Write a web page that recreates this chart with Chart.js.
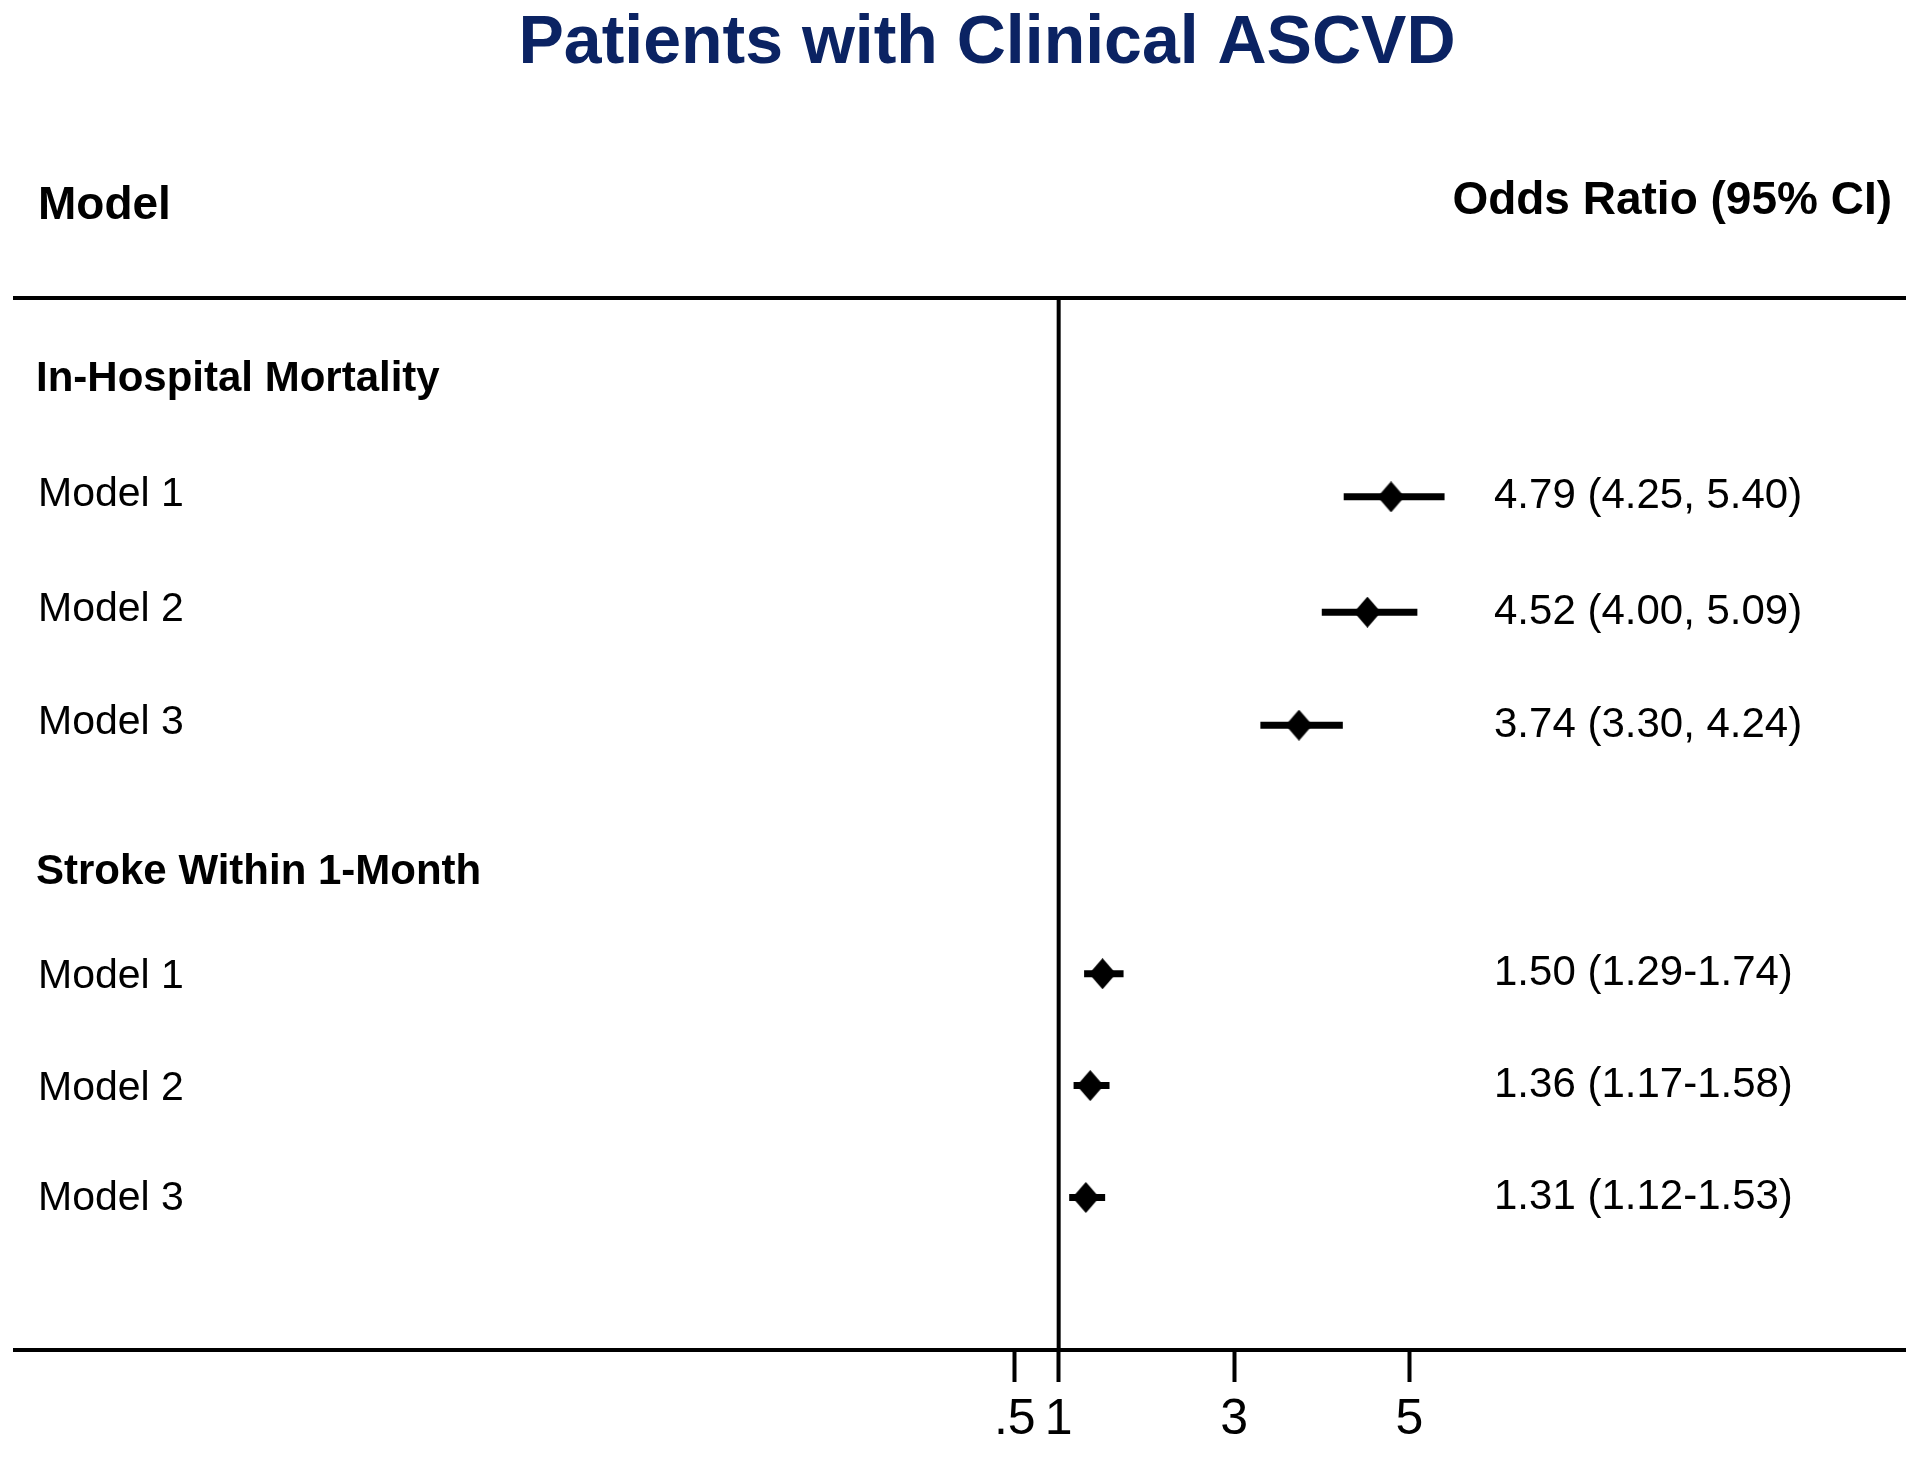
<!DOCTYPE HTML>
<html>

<head>
  <title>Patients with Clinical ASCVD</title>
  <meta content="width=device-width, initial-scale=1.0" name="viewport">
  <script src="https://cdn.jsdelivr.net/npm/chart.js"></script>
  <style>
    body { margin: 0; background: #fff; }
    .chart-container { position: relative; width: 1920px; height: 1458px; }
  </style>
</head>

<body>
  <div class="chart-container">
    <canvas id="forestChart"></canvas>
  </div>

  <script type="text/javascript">
    const ctx_forest = document.getElementById('forestChart');

    // ---- data ----------------
    var chartTitle = "Patients with Clinical ASCVD";
    var colLeft = "Model";
    var colRight = "Odds Ratio (95% CI)";
    var rowLabels = ["In-Hospital Mortality", "Model 1", "Model 2", "Model 3", "Stroke Within 1-Month", "Model 1", "Model 2", "Model 3"];
    var rowIsHeader = [true, false, false, false, true, false, false, false];
    var rowPos = [0.72, 1.76, 2.78, 3.78, 5.08, 5.98, 6.97, 7.96];   // row position on the (hidden) y axis
    var oddsRatio = [null, 4.79, 4.52, 3.74, null, 1.50, 1.36, 1.31];
    var ciLow = [null, 4.25, 4.00, 3.30, null, 1.29, 1.17, 1.12];
    var ciHigh = [null, 5.40, 5.09, 4.24, null, 1.74, 1.58, 1.53];
    var ciText = ["", "4.79 (4.25, 5.40)", "4.52 (4.00, 5.09)", "3.74 (3.30, 4.24)", "", "1.50 (1.29-1.74)", "1.36 (1.17-1.58)", "1.31 (1.12-1.53)"];
    var xTicks = [0.5, 1, 3, 5];
    var xTickLabels = [".5", "1", "3", "5"];
    var refValue = 1;
    var xMin = -10.9, xMax = 10.65;
    var yMax = 9.31;
    //--------------------------

    var fontFam = '"Liberation Sans", Arial, sans-serif';
    // small vertical nudge (px) of the left labels per row, text sits a bit off the marker line
    var labelNudge = [0, -2, -2, -2, 0, 3, 3, 1];

    // diamond marker, a little taller than wide
    function makeDiamond(w, h) {
      var c = document.createElement('canvas');
      c.width = w; c.height = h;
      var g = c.getContext('2d');
      g.fillStyle = '#000';
      g.beginPath();
      g.moveTo(w / 2, 0);
      g.lineTo(w, h / 2);
      g.lineTo(w / 2, h);
      g.lineTo(0, h / 2);
      g.closePath();
      g.fill();
      return c;
    }
    var diamond = makeDiamond(27, 31);

    var datasets = [];
    var markerPts = [];
    for (let index = 0; index < rowLabels.length; index++) {
      if (oddsRatio[index] == null) continue;
      markerPts.push({ x: oddsRatio[index], y: rowPos[index] });
      datasets.push({
        label: 'CI ' + index,
        data: [{ x: ciLow[index], y: rowPos[index] }, { x: ciHigh[index], y: rowPos[index] }],
        showLine: true,
        borderColor: '#000',
        borderWidth: 7,
        pointRadius: 0,
        order: 1,
      });
    }
    datasets.push({
      label: 'OR',
      data: markerPts,
      pointStyle: diamond,
      pointRadius: 14,
      order: 0,
    });
    datasets.push({
      label: 'ref',
      data: [{ x: refValue, y: 0 }, { x: refValue, y: yMax }],
      showLine: true,
      borderColor: '#000',
      borderWidth: 4,
      pointRadius: 0,
      order: 2,
    });

    var textPlugin = {
      id: 'forestText',
      afterDraw(chart) {
        var c = chart.ctx;
        var ys = chart.scales.y;
        c.save();
        c.fillStyle = '#0b2363';
        c.font = 'bold 68px ' + fontFam;
        c.textAlign = 'center';
        c.textBaseline = 'alphabetic';
        c.fillText(chartTitle, 987, 63);

        c.fillStyle = '#000';
        c.font = 'bold 46px ' + fontFam;
        c.textAlign = 'left';
        c.fillText(colLeft, 38, 219);
        c.textAlign = 'right';
        c.fillText(colRight, 1892, 214);

        c.textBaseline = 'middle';
        for (let index = 0; index < rowLabels.length; index++) {
          var py = ys.getPixelForValue(rowPos[index]);
          c.textAlign = 'left';
          if (rowIsHeader[index]) {
            c.font = 'bold 42px ' + fontFam;
            c.fillText(rowLabels[index], 36, py);
          } else {
            c.font = '41px ' + fontFam;
            c.fillText(rowLabels[index], 38, py + labelNudge[index]);
            c.font = '42px ' + fontFam;
            c.fillText(ciText[index], 1494, py);
          }
        }
        c.restore();
      }
    };

    var ChartForest = new Chart(ctx_forest, {
      type: 'scatter',
      data: { datasets: datasets },
      plugins: [textPlugin],
      options: {
        responsive: true,
        maintainAspectRatio: false,
        animation: false,
        layout: { padding: { left: 12, right: 10, top: 298, bottom: 0 } },
        plugins: {
          legend: { display: false },
          tooltip: { enabled: false },
        },
        scales: {
          x: {
            type: 'linear',
            position: 'bottom',
            min: xMin,
            max: xMax,
            afterBuildTicks: function (scale) {
              scale.ticks = xTicks.map(function (v) { return { value: v }; });
            },
            grid: { display: true, drawOnChartArea: false, drawTicks: true, tickLength: 32, tickWidth: 4, tickColor: '#000' },
            border: { display: true, color: '#000', width: 4 },
            ticks: {
              color: '#000',
              autoSkip: false,
              maxRotation: 0,
              padding: 8,
              font: { family: fontFam, size: 50 },
              callback: function (value) {
                var i = xTicks.indexOf(value);
                return i >= 0 ? xTickLabels[i] : '';
              }
            }
          },
          xTop: {
            type: 'linear',
            position: 'top',
            min: xMin,
            max: xMax,
            grid: { display: false, drawTicks: false, tickLength: 0 },
            ticks: { display: false },
            border: { display: true, color: '#000', width: 4 },
          },
          y: {
            type: 'linear',
            reverse: true,
            min: 0,
            max: yMax,
            display: false,
          },
        },
      },
    });
  </script>
</body>

</html>
